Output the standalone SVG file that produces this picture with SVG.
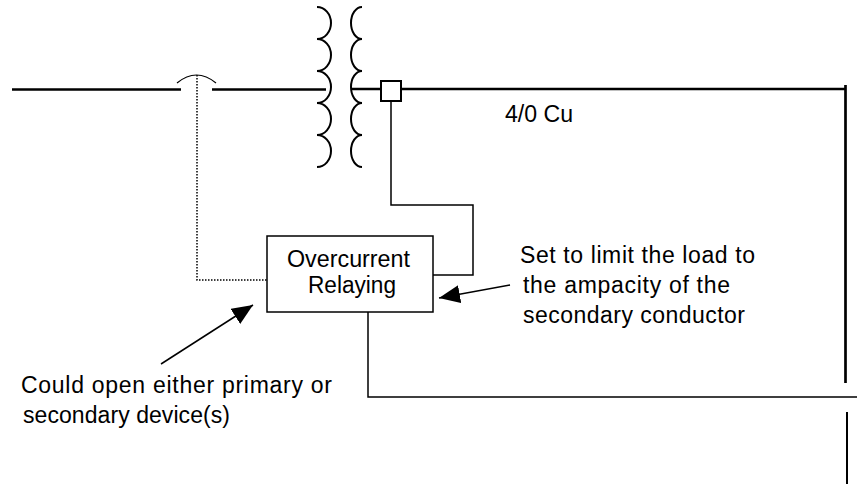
<svg xmlns="http://www.w3.org/2000/svg" width="857" height="484" viewBox="0 0 857 484">
<style>
.w{fill:none;stroke:#000;stroke-linecap:butt}
.t{font-family:"Liberation Sans",Arial,sans-serif;font-size:23px;fill:#000}
</style>
<defs>
<marker id="ah" markerWidth="22" markerHeight="18" refX="21" refY="9" orient="auto" markerUnits="userSpaceOnUse">
<path d="M0,0 L21,9 L0,18 Z" fill="#000"/>
</marker>
</defs>
<rect width="857" height="484" fill="#fff"/>
<g id="connectors">
<path class="w" stroke-width="2.7" d="M12,89.5 H181 M212,89.5 H326"/>
<path class="w" stroke-width="1.2" d="M177,83 Q196.5,67 216,83"/>
<path class="w" stroke-width="1.5" stroke-dasharray="1.5,1.5" d="M197,75 V280 H267"/>
<path class="w" stroke-width="2.7" d="M351,89 H381 M401,89 H846"/>
<path class="w" stroke-width="2.7" d="M845.5,85 V383"/>
<path class="w" stroke-width="1.5" d="M391,101 V205 H473 V275 H430"/>
<path class="w" stroke-width="1.5" d="M368,312 V397 H857"/>
<path class="w" stroke-width="2" d="M847,412 V484"/>
<path class="w" stroke-width="1.5" marker-end="url(#ah)" d="M161,364 L253,305"/>
<path class="w" stroke-width="1.5" marker-end="url(#ah)" d="M510,285 L439,298"/>
</g>
<g id="transformer">
<path class="w" stroke-width="2" d="M317,7 a14,16 0 0 1 0,32 a14,16 0 0 1 0,32 a14,16 0 0 1 0,32 a14,16 0 0 1 0,32 a14,16 0 0 1 0,32"/>
<path class="w" stroke-width="2" d="M362,7 a11,16 0 0 0 0,32 a11,16 0 0 0 0,32 a11,16 0 0 0 0,32 a11,16 0 0 0 0,32 a11,16 0 0 0 0,32"/>
</g>
<g id="ct">
<rect x="381" y="81" width="20" height="20" fill="#fff" stroke="#000" stroke-width="2"/>
</g>
<g id="relay">
<rect x="267" y="236" width="166" height="76" fill="#fff" stroke="#000" stroke-width="1.5"/>
<text class="t" x="287" y="267" textLength="123" lengthAdjust="spacingAndGlyphs">Overcurrent</text>
<text class="t" x="308" y="293" textLength="88" lengthAdjust="spacingAndGlyphs">Relaying</text>
</g>
<g id="labels">
<text class="t" x="505" y="122" textLength="68" lengthAdjust="spacingAndGlyphs">4/0 Cu</text>
<text class="t" x="520" y="263" textLength="235" lengthAdjust="spacing">Set to limit the load to</text>
<text class="t" x="523" y="293" textLength="207" lengthAdjust="spacing">the ampacity of the</text>
<text class="t" x="523" y="323" textLength="222" lengthAdjust="spacing">secondary conductor</text>
<text class="t" x="21" y="393" textLength="311" lengthAdjust="spacing">Could open either primary or</text>
<text class="t" x="23" y="423" textLength="207" lengthAdjust="spacing">secondary device(s)</text>
</g>
</svg>
